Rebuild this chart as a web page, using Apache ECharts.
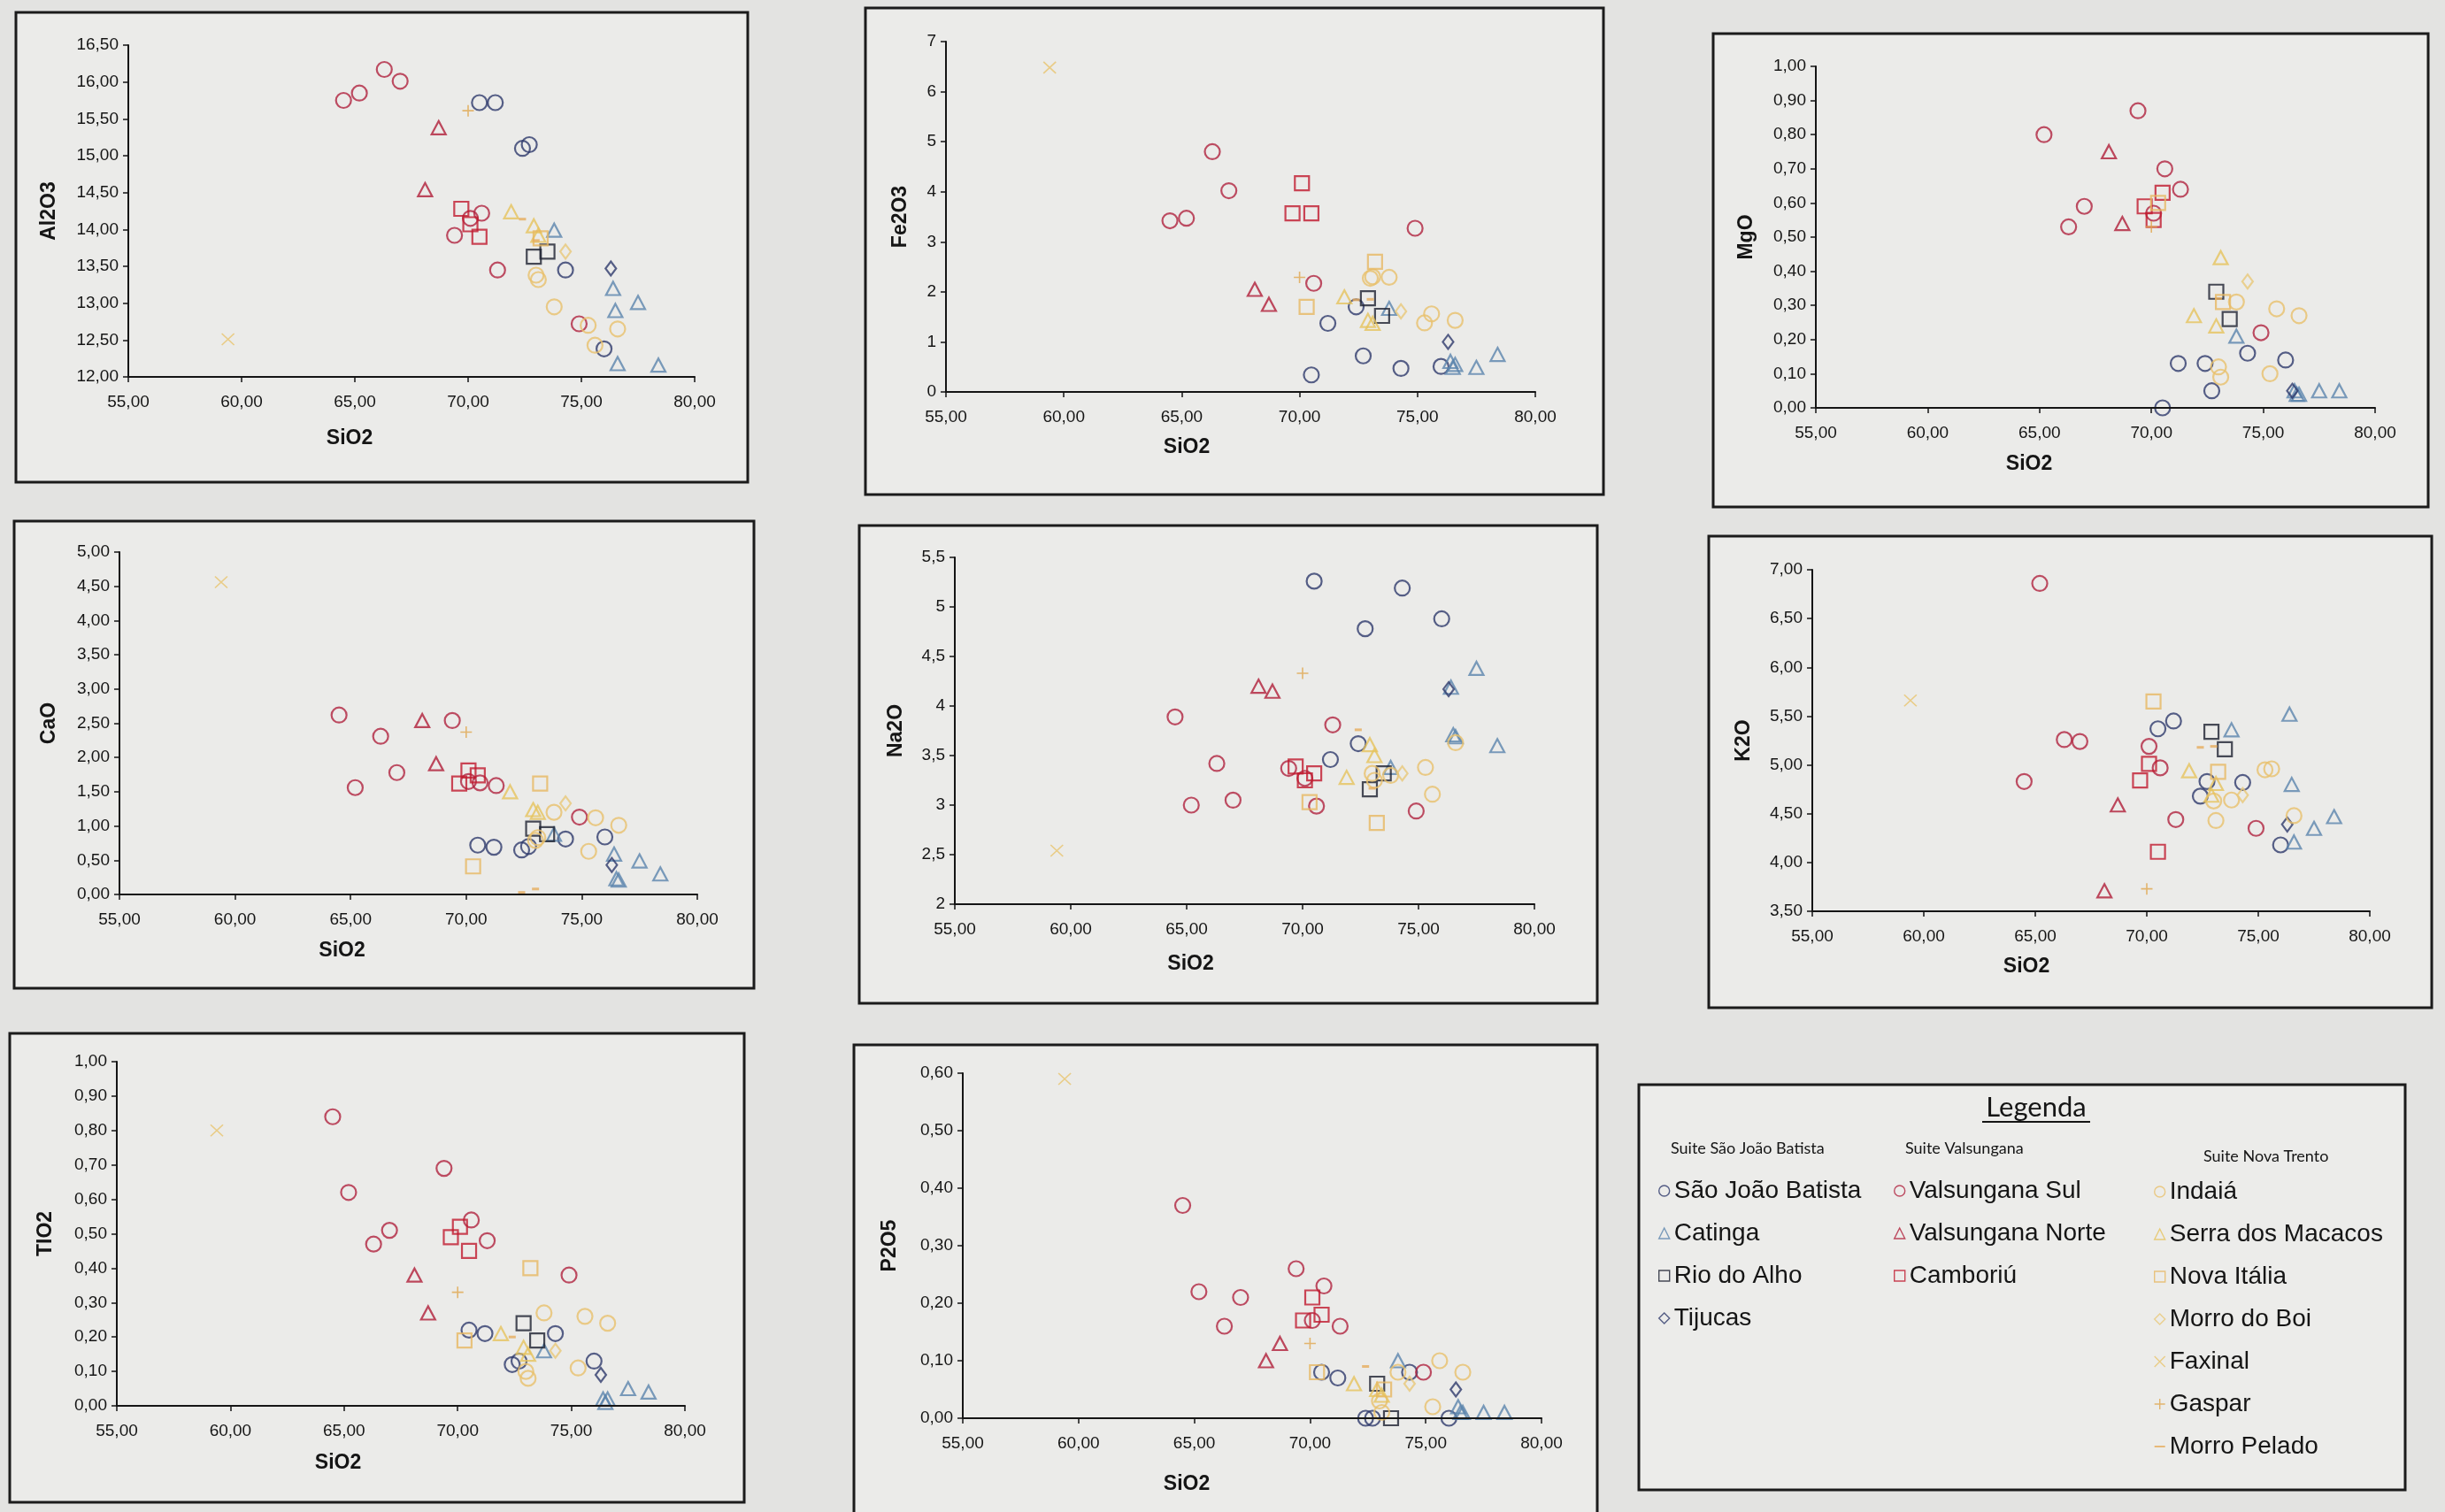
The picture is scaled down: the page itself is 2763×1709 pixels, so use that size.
<!DOCTYPE html>
<html><head><meta charset="utf-8">
<script src="https://cdn.jsdelivr.net/npm/echarts@6/dist/echarts.min.js"></script>
<style>html,body{margin:0;padding:0;background:#e3e3e1;}#c{width:2763px;height:1709px;}</style>
</head><body><div id="c"></div>
<script>
// ---------- DATA ----------
// each row: [SiO2, Al2O3, Fe2O3, MgO, CaO, Na2O, K2O, TiO2, P2O5]
const panelNames = ['Al2O3', 'Fe2O3', 'MgO', 'CaO', 'Na2O', 'K2O', 'TIO2', 'P2O5'];
const xTicks = [55, 60, 65, 70, 75, 80];
const yAxisMin = [12, 0, 0, 0, 2, 3.5, 0, 0];
const yAxisMax = [16.5, 7, 1, 5, 5.5, 7, 1, 0.6];
const yAxisStep = [0.5, 1, 0.1, 0.5, 0.5, 0.5, 0.1, 0.1];
const yLabelDecimals = [2, 0, 2, 2, 'g', 2, 2, 2];

const saoJoaoBatista = [
  [70.5, 15.72, 0.34, 0.00, 0.72, 5.26, 5.37, 0.22, 0.08],
  [71.2, 15.72, 1.37, 0.13, 0.69, 3.46, 5.45, 0.21, 0.07],
  [72.4, 15.10, 1.70, 0.13, 0.65, 3.62, 4.68, 0.12, 0.00],
  [72.7, 15.15, 0.72, 0.05, 0.70, 4.78, 4.83, 0.13, 0.00],
  [74.3, 13.45, 0.47, 0.16, 0.81, 5.19, 4.82, 0.21, 0.08],
  [76.0, 12.38, 0.51, 0.14, 0.84, 4.88, 4.18, 0.13, 0.00]
];
const catinga = [
  [73.8, 13.99, 1.67, 0.21, 0.88, 3.38, 5.36, 0.16, 0.10],
  [76.4, 13.20, 0.61, 0.05, 0.59, 4.19, 5.52, 0.02, 0.02],
  [76.5, 12.90, 0.49, 0.04, 0.23, 3.71, 4.80, 0.01, 0.01],
  [76.6, 12.18, 0.55, 0.04, 0.21, 3.69, 4.21, 0.02, 0.01],
  [77.5, 13.01, 0.49, 0.05, 0.49, 4.38, 4.35, 0.05, 0.01],
  [78.4, 12.16, 0.75, 0.05, 0.30, 3.60, 4.47, 0.04, 0.01]
];
const rioDoAlho = [
  [72.9, 13.63, 1.87, 0.34, 0.96, 3.16, 5.34, 0.24, 0.06],
  [73.5, 13.70, 1.52, 0.26, 0.88, 3.32, 5.16, 0.19, 0.00]
];
const tijucas = [
  [76.3, 13.47, 1.00, 0.05, 0.43, 4.17, 4.39, 0.09, 0.05]
];
const valsunganaSul = [
  [64.5, 15.75, 3.42, null, 2.62, 3.89, 4.83, 0.84, 0.37],
  [65.2, 15.85, 3.47, 0.80, 1.56, 3.00, 6.86, 0.62, 0.22],
  [66.3, 16.17, 4.80, 0.53, 2.31, 3.42, 5.26, 0.47, 0.16],
  [67.0, 16.01, 4.02, 0.59, 1.78, 3.05, 5.24, 0.51, 0.21],
  [69.4, 13.92, null, 0.87, 2.54, 3.37, null, 0.69, 0.26],
  [70.1, 14.15, null, 0.57, 1.65, 3.27, 5.19, null, 0.17],
  [70.6, 14.22, 2.17, 0.70, 1.63, 2.99, 4.97, 0.54, 0.23],
  [71.3, 13.45, null, 0.64, 1.59, 3.81, 4.44, 0.48, 0.16],
  [74.9, 12.72, 3.27, 0.22, 1.13, 2.94, 4.35, 0.38, 0.08]
];
const valsunganaNorte = [
  [68.1, 14.54, 2.05, 0.75, 2.54, 4.20, 3.71, 0.38, 0.10],
  [68.7, 15.38, 1.75, 0.54, 1.91, 4.15, 4.59, 0.27, 0.13]
];
const camboriu = [
  [69.7, 14.28, 3.57, 0.59, 1.62, 3.39, 4.84, 0.49, 0.17],
  [70.1, 14.07, 4.17, 0.55, 1.81, 3.25, 5.01, 0.52, 0.21],
  [70.5, 13.90, 3.57, 0.63, 1.74, 3.32, 4.11, 0.45, 0.18]
];
const indaia = [
  [73.0, 13.38, 2.27, 0.12, 0.79, 3.32, 4.63, 0.10, 0.03],
  [73.1, 13.32, 2.30, 0.09, 0.83, 3.25, 4.43, 0.08, 0.01],
  [73.8, 12.95, 2.29, 0.31, 1.20, 3.30, 4.64, 0.27, 0.08],
  [75.3, 12.70, 1.38, 0.10, 0.63, 3.38, 4.95, 0.11, 0.02],
  [75.6, 12.43, 1.56, 0.29, 1.12, 3.11, 4.96, 0.26, 0.10],
  [76.6, 12.65, 1.43, 0.27, 1.01, 3.63, 4.48, 0.24, 0.08]
];
const serraDosMacacos = [
  [71.9, 14.24, 1.90, 0.27, 1.50, 3.28, 4.94, 0.21, 0.06],
  [72.9, 14.05, 1.43, 0.24, 1.24, 3.61, 4.69, 0.17, 0.05],
  [73.1, 13.92, 1.37, 0.44, 1.20, 3.50, 4.81, 0.15, 0.04]
];
const novaItalia = [
  [70.3, null, 1.70, 0.60, 0.41, 3.03, 5.65, 0.19, 0.08],
  [73.2, 13.88, 2.60, 0.31, 1.62, 2.82, 4.93, 0.40, 0.05]
];
const morroDoBoi = [
  [74.3, 13.70, 1.61, 0.37, 1.33, 3.32, 4.69, 0.16, 0.06]
];
const faxinal = [
  [59.4, 12.51, 6.48, null, 4.56, 2.54, 5.66, 0.80, 0.59]
];
const gaspar = [
  [70.0, 15.61, 2.29, 0.53, 2.37, 4.33, 3.73, 0.33, 0.13]
];
const morroPelado = [
  [72.4, 14.14, 1.84, null, 0.03, 3.76, 5.18, 0.20, 0.09],
  [73.0, 13.85, 1.85, 0.32, 0.08, 3.17, 5.19, null, null]
];

// ---------- STYLES / LAYOUT ----------
const XPATH = 'path://M0,0L10,10M10,0L0,10';
const PLUSPATH = 'path://M5,0L5,10M0,5L10,5';
const DASHICON = 'path://M0,0L0.05,0L0,0.05Z M0,4.2L10,4.2L10,5.8L0,5.8Z M10,10L9.95,10L10,9.95Z';
const seriesDefs = [
  {name: 'São João Batista', rows: saoJoaoBatista, symbol: 'circle', size: 17, color: '#2e3a6c', col: 0},
  {name: 'Catinga', rows: catinga, symbol: 'triangle', size: [16, 15], color: '#5b85ad', col: 0},
  {name: 'Rio do Alho', rows: rioDoAlho, symbol: 'rect', size: 16, color: '#1d2030', col: 0},
  {name: 'Tijucas', rows: tijucas, symbol: 'diamond', size: [12, 16], color: '#2e3a6c', col: 0},
  {name: 'Valsungana Sul', rows: valsunganaSul, symbol: 'circle', size: 17, color: '#b0233f', col: 1},
  {name: 'Valsungana Norte', rows: valsunganaNorte, symbol: 'triangle', size: [16, 15], color: '#b01e38', col: 1},
  {name: 'Camboriú', rows: camboriu, symbol: 'rect', size: 16, color: '#c01a2e', col: 1},
  {name: 'Indaiá', rows: indaia, symbol: 'circle', size: 17, color: '#e8c06c', col: 2},
  {name: 'Serra dos Macacos', rows: serraDosMacacos, symbol: 'triangle', size: [16, 15], color: '#e6c35c', col: 2},
  {name: 'Nova Itália', rows: novaItalia, symbol: 'rect', size: 16, color: '#e7b862', col: 2},
  {name: 'Morro do Boi', rows: morroDoBoi, symbol: 'diamond', size: [12, 16], color: '#e9c878', col: 2},
  {name: 'Faxinal', rows: faxinal, symbol: XPATH, size: [14, 13], color: '#e8c46e', col: 2, bw: 1.6},
  {name: 'Gaspar', rows: gaspar, symbol: PLUSPATH, size: [13, 13], color: '#e0a64e', col: 2, bw: 1.6},
  {name: 'Morro Pelado', rows: morroPelado, symbol: 'rect', size: [8, 3], color: '#e6ad5c', col: 2, filled: true, legendIcon: DASHICON}
];

const gridBoxes = [
  [145, 51, 640, 375],
  [1069, 47, 666, 396],
  [2052, 75, 632, 386],
  [135, 624, 653, 387],
  [1079, 630, 655, 392],
  [2048, 644, 630, 386],
  [132, 1200, 642, 389],
  [1088, 1213, 654, 390]
];
const panelFrames = [
  [18, 14, 827, 531],
  [978, 9, 834, 550],
  [1936, 38, 808, 535],
  [16, 589, 836, 528],
  [971, 594, 834, 540],
  [1931, 606, 817, 533],
  [11, 1168, 830, 530],
  [965, 1181, 840, 540]
];
const yNameGap = [78, 40, 67, 68, 55, 66, 69, 71];
const xNameGap = [58, 51, 52, 52, 56, 51, 53, 63];
const xNameShift = [70, 61, 75, 75, 61, 73, 71, 74];

const FONT = "'Liberation Sans', Arial, sans-serif";
const INK = '#151515';

function fmt(v, d) {
  if (d === 'g') return String(Math.round(v * 10) / 10).replace('.', ',');
  return (Math.round(v * 100) / 100).toFixed(d).replace('.', ',');
}

const grids = [], xAxes = [], yAxes = [], series = [];
panelNames.forEach((nm, p) => {
  const g = gridBoxes[p];
  grids.push({left: g[0], top: g[1], width: g[2], height: g[3], containLabel: false});
  xAxes.push({
    type: 'value', gridIndex: p, min: xTicks[0], max: xTicks[xTicks.length - 1],
    interval: xTicks[1] - xTicks[0], z: 5,
    name: 'SiO2', nameLocation: 'middle', nameGap: xNameGap[p],
    nameTextStyle: {fontFamily: FONT, fontWeight: 'bold', fontSize: 23, color: INK, padding: [0, 2 * xNameShift[p], 0, 0]},
    axisLine: {show: true, onZero: false, lineStyle: {color: INK, width: 2}},
    axisTick: {show: true, inside: false, length: 6, lineStyle: {color: INK, width: 1.5}},
    axisLabel: {fontFamily: FONT, fontSize: 19, color: INK, margin: 19, formatter: v => fmt(v, 2)},
    splitLine: {show: false}
  });
  yAxes.push({
    type: 'value', gridIndex: p, min: yAxisMin[p], max: yAxisMax[p], interval: yAxisStep[p], z: 5,
    name: nm, nameLocation: 'middle', nameGap: yNameGap[p],
    nameTextStyle: {fontFamily: FONT, fontWeight: 'bold', fontSize: 23, color: INK},
    axisLine: {show: true, onZero: false, lineStyle: {color: INK, width: 2}},
    axisTick: {show: true, inside: false, length: 6, lineStyle: {color: INK, width: 1.5}},
    axisLabel: {fontFamily: FONT, fontSize: 19, color: INK, margin: 11, formatter: v => fmt(v, yLabelDecimals[p])},
    splitLine: {show: false}
  });
  seriesDefs.forEach(sd => {
    const pts = sd.rows.filter(r => r[p + 1] !== null && r[p + 1] !== undefined).map(r => [r[0], r[p + 1]]);
    series.push({
      type: 'scatter', name: sd.name, xAxisIndex: p, yAxisIndex: p, data: pts,
      symbol: sd.symbol, symbolSize: sd.size, clip: false, z: 3,
      itemStyle: sd.filled ? {color: sd.color} :
        {color: 'rgba(0,0,0,0)', borderColor: sd.color, borderWidth: sd.bw || 2.2},
      emphasis: {disabled: true}, silent: true
    });
  });
});

function legendData(col) {
  return seriesDefs.filter(s => s.col === col).map(s => ({
    name: s.name,
    icon: s.legendIcon || s.symbol,
    itemStyle: s.filled ? {color: s.color, borderWidth: 0} :
      {color: 'rgba(0,0,0,0)', borderColor: s.color, borderWidth: 1.4}
  }));
}
const legendBase = {
  orient: 'vertical', itemWidth: 12, itemHeight: 12, itemGap: 18, padding: 0,
  selectedMode: false,
  textStyle: {fontFamily: FONT, fontSize: 28, color: INK, lineHeight: 30}
};
const legends = [
  Object.assign({}, legendBase, {left: 1874, top: 1331, data: legendData(0)}),
  Object.assign({}, legendBase, {left: 2140, top: 1331, data: legendData(1)}),
  Object.assign({}, legendBase, {left: 2434, top: 1332, data: legendData(2)})
];

const graphics = panelFrames.map(f => ({
  type: 'rect', z: -10, silent: true,
  shape: {x: f[0], y: f[1], width: f[2], height: f[3]},
  style: {fill: '#ebebe9', stroke: '#1b1b1b', lineWidth: 3}
}));
graphics.push({
  type: 'rect', z: -10, silent: true,
  shape: {x: 1852, y: 1226, width: 866, height: 458},
  style: {fill: '#ececea', stroke: '#1b1b1b', lineWidth: 3}
});
const HEAD = "Lato, 'Open Sans', sans-serif";
graphics.push(
  {type: 'text', z: 10, silent: true, style: {text: 'Legenda', x: 2301, y: 1252, align: 'center', verticalAlign: 'middle', fontFamily: HEAD, fontSize: 31, fill: INK}},
  {type: 'line', z: 10, silent: true, shape: {x1: 2240, y1: 1268, x2: 2362, y2: 1268}, style: {stroke: INK, lineWidth: 2}},
  {type: 'text', z: 10, silent: true, style: {text: 'Suite São João Batista', x: 1888, y: 1298, align: 'left', verticalAlign: 'middle', fontFamily: HEAD, fontSize: 18, fill: INK}},
  {type: 'text', z: 10, silent: true, style: {text: 'Suite Valsungana', x: 2153, y: 1298, align: 'left', verticalAlign: 'middle', fontFamily: HEAD, fontSize: 18, fill: INK}},
  {type: 'text', z: 10, silent: true, style: {text: 'Suite Nova Trento', x: 2490, y: 1307, align: 'left', verticalAlign: 'middle', fontFamily: HEAD, fontSize: 18, fill: INK}}
);

const chart = echarts.init(document.getElementById('c'), null, {renderer: 'canvas', width: 2763, height: 1709});
chart.setOption({
  backgroundColor: '#e3e3e1',
  animation: false,
  grid: grids,
  xAxis: xAxes,
  yAxis: yAxes,
  legend: legends,
  graphic: {elements: graphics},
  series: series
});
</script></body></html>
